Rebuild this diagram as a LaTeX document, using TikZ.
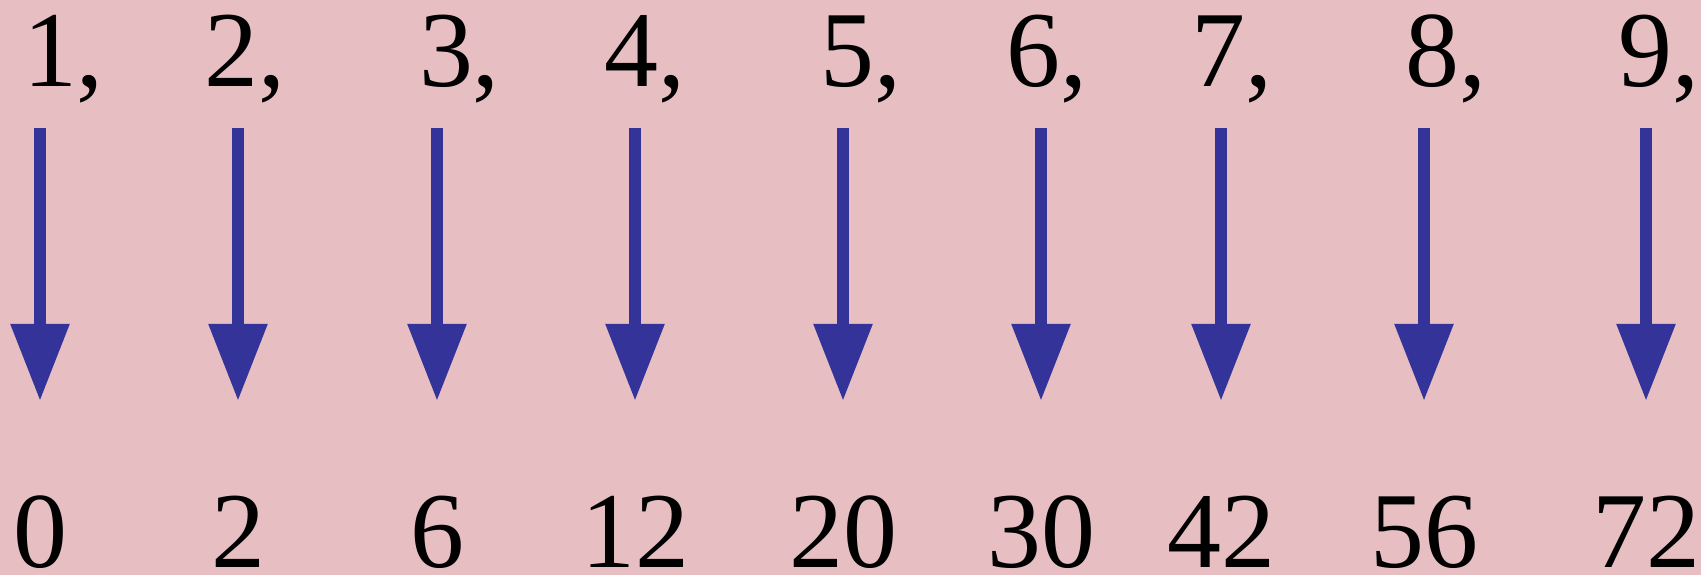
\documentclass[tikz,border=0pt]{standalone}
\usepackage{fontspec}
\setmainfont{Liberation Serif}
\usetikzlibrary{arrows.meta}
\definecolor{pnpaper}{RGB}{231,191,194}
\definecolor{pnblue}{RGB}{51,51,153}
\tikzset{
 pn label/.style={font=\fontsize{30.7}{36}\selectfont,anchor=base,
                  inner sep=0pt,outer sep=0pt,text=black},
 pn arrow/.style={line width=1.2mm,draw=pnblue,
                  -{Triangle[length=7.7mm,width=5.6mm,fill=pnblue]}}
}

\begin{document}
\begin{tikzpicture}
 \fill[pnpaper] (0,0) rectangle (17.01,5.75);
 \useasboundingbox (0,0) rectangle (17.01,5.75);
 % n  -->  n(n-1)
 \foreach \i/\xt/\xa/\v in {1/.635/.40/0,2/2.45/2.38/2,3/4.595/4.37/6,
                            4/6.445/6.35/12,5/8.605/8.43/20,6/10.465/10.41/30,
                            7/12.32/12.21/42,8/14.46/14.24/56,9/16.59/16.46/72}{
   \node[pn label] (t\i) at (\xt,4.88) {\i,};
   \coordinate (s\i) at (\xa,4.47);
   \coordinate (e\i) at (\xa,1.74);
   \node[pn label] (b\i) at (\xa,.07) {\v};
   \draw[pn arrow] (s\i)--(e\i);
 }
\end{tikzpicture}
\end{document}
